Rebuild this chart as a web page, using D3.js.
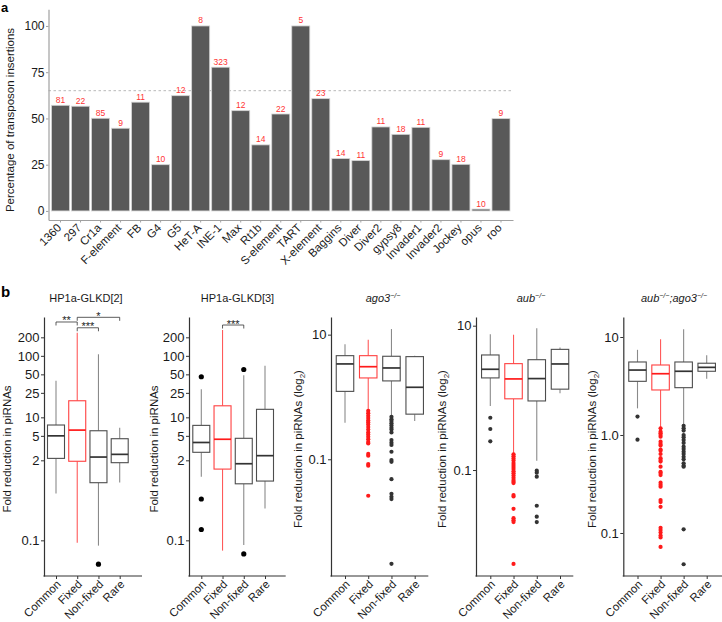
<!DOCTYPE html>
<html><head><meta charset="utf-8">
<script src="https://cdn.jsdelivr.net/npm/d3@7"></script>
<style>body{margin:0;background:#fff}svg{display:block}text{font-family:"Liberation Sans",Arial,Helvetica,sans-serif}</style>
</head><body><svg id="c" width="722" height="622"></svg>
<script>
// ---------- Panel a data ----------
const teCategories = ["1360","297","Cr1a","F-element","FB","G4","G5","HeT-A","INE-1","Max","Rt1b","S-element","TART","X-element","Baggins","Diver","Diver2","gypsy8","Invader1","Invader2","Jockey","opus","roo"];
const tePercent = [57.1,56.6,50.1,44.7,58.8,25,62.3,100,77.7,54.2,35.7,52.4,100,60.7,28.3,27.2,45.4,41.4,45.2,27.7,25.2,1,49.9];
const teCounts = [81,22,85,9,11,10,12,8,323,12,14,22,5,23,14,11,11,18,11,9,18,10,9];
const teThreshold = 65;
const percentTicks = [0,25,50,75,100];

// ---------- Panel b data ----------
const boxCategories = ["Common","Fixed","Non-fixed","Rare"];
// each box: [lower whisker, Q1, median, Q3, upper whisker]
const glkd2Stats = [[0.58,2.15,5.0,7.5,39.4],[0.091,1.93,6.2,18.6,238],[0.082,0.865,2.26,6.05,106],[0.875,1.83,2.5,4.49,6.8]];
const glkd2Outliers = [[],[],[0.041],[]];
const glkd2Brackets = [["Common","Fixed","**",355],["Fixed","Non-fixed","***",286],["Fixed","Rare","*",423]];

const glkd3Stats = [[1.08,2.7,3.9,7.4,28.5],[0.068,1.44,4.4,15.4,263],[0.084,0.83,1.76,4.56,48.5],[0.33,0.92,2.38,13.5,69]];
const glkd3Outliers = [[45.7,0.47,0.15],[],[60,0.06],[]];
const glkd3Brackets = [["Fixed","Non-fixed","***",317]];

const glkdTicks = [0.1,2,5,10,25,50,100,200];
const glkdTickLabels = ["0.1","2","5","10","25","50","100","200"];

const ago3Stats = [[0.387,1.23,3.39,4.6,7.0],[0.62,2.02,3.06,4.6,8.3],[0.5,1.81,2.92,4.5,12.3],[0.41,0.53,1.43,4.44,4.6]];
const ago3Outliers = [[],
  [0.6,0.55,0.5,0.46,0.42,0.39,0.36,0.33,0.3,0.27,0.25,0.23,0.21,0.19,0.18,0.122,0.114,0.084,0.079,0.026],
  [0.48,0.44,0.41,0.38,0.35,0.32,0.3,0.27,0.204,0.185,0.17,0.132,0.097,0.091,0.048,0.028,0.025,0.023,0.0021],
  []];

const aubStats = [[0.77,1.89,2.49,3.93,7.6],[0.171,0.97,1.83,2.98,7.5],[0.134,0.906,1.85,3.38,9.2],[1.16,1.32,2.95,4.7,5.0]];
const aubOutliers = [[0.53,0.37,0.25],
  [0.165,0.155,0.145,0.135,0.125,0.117,0.11,0.103,0.096,0.09,0.084,0.078,0.073,0.069,0.066,0.045,0.043,0.029,0.0215,0.0202,0.019,0.005],
  [0.098,0.092,0.081,0.032,0.0226,0.019],
  []];
const log2Ticks = [0.1,10];
const log2TickLabels = ["0.1","10"];

const aubAgo3Stats = [[1.87,3.53,4.6,5.56,7.4],[1.19,2.88,4.22,5.18,9.5],[1.26,3.04,4.47,5.56,12],[3.76,4.47,4.9,5.4,6.5]];
const aubAgo3Outliers = [[1.54,0.895],
  [1.17,1.08,1.04,1.0,0.96,0.855,0.81,0.78,0.71,0.69,0.64,0.58,0.556,0.535,0.475,0.42,0.41,0.39,0.326,0.31,0.297,0.217,0.207,0.185,0.113,0.107,0.101,0.094,0.09,0.072],
  [1.24,1.17,1.11,1.0,0.95,0.89,0.83,0.76,0.72,0.675,0.64,0.6,0.565,0.514,0.486,0.475,0.109,0.048],
  []];
const aubAgo3Ticks = [0.1,1,10];
const aubAgo3TickLabels = ["0.1","1.0","10"];

// ---------- drawing ----------
const svg = d3.select("#c");
const TXT = "#1a1a1a";

svg.append("text").attr("x",1).attr("y",12).attr("font-size",13).attr("font-weight","bold").text("a");
svg.append("text").attr("x",1).attr("y",297).attr("font-size",15).attr("font-weight","bold").text("b");

// Panel a
const ga = svg.append("g");
const xA = d3.scaleBand().domain(teCategories).range([48.5,513]).paddingInner(0.1).paddingOuter(0.15);
const yA = d3.scaleLinear().domain([-4.9,109]).range([220,9.3]);

ga.append("line").attr("x1",48.5).attr("x2",513).attr("y1",yA(teThreshold)).attr("y2",yA(teThreshold))
  .attr("stroke","#b8b8b8").attr("stroke-width",1).attr("stroke-dasharray","2.5,2.5");

ga.selectAll("rect.bar").data(teCategories).join("rect").attr("class","bar")
  .attr("x",d=>xA(d)).attr("width",xA.bandwidth())
  .attr("y",(d,i)=>yA(tePercent[i])).attr("height",(d,i)=>yA(0)-yA(tePercent[i]))
  .attr("fill","#595959").attr("stroke","#d4d4d4").attr("stroke-width",0.8);

ga.selectAll("text.cnt").data(teCategories).join("text").attr("class","cnt")
  .attr("x",d=>xA(d)+xA.bandwidth()/2).attr("y",(d,i)=>yA(tePercent[i])-2.5)
  .attr("text-anchor","middle").attr("font-size",8.5).attr("fill","#ff3333")
  .text((d,i)=>teCounts[i]);

const axAy = ga.append("g").attr("transform","translate(48.5,0)")
  .call(d3.axisLeft(yA).tickValues(percentTicks).tickSize(2.5).tickPadding(1.5).tickSizeOuter(0));
axAy.select(".domain").attr("stroke","#a0a0a0").attr("stroke-width",1.2);
axAy.selectAll(".tick line").attr("stroke","#a0a0a0");
axAy.selectAll(".tick text").attr("font-size",12).attr("fill",TXT).attr("font-family",null);

const axAx = ga.append("g").attr("transform","translate(0,220)")
  .call(d3.axisBottom(xA).tickSize(2.5).tickSizeOuter(0));
axAx.select(".domain").attr("stroke","#a0a0a0").attr("stroke-width",1.2);
axAx.selectAll(".tick line").attr("stroke","#a0a0a0");
axAx.selectAll(".tick text").attr("font-size",11.5).attr("fill",TXT).attr("font-family",null)
  .attr("x",0).attr("y",0).attr("dy",0).attr("text-anchor","end")
  .attr("transform","translate(1.5,8.5) rotate(-45)");

svg.append("text").attr("transform","translate(14,120) rotate(-90)").attr("text-anchor","middle")
  .attr("font-size",11.5).attr("fill",TXT).text("Percentage of transposon insertions");

// Panel b
const panels = [
  {title:[["HP1a-GLKD[2]",0,false]], titleX:86, stats:glkd2Stats, out:glkd2Outliers, br:glkd2Brackets,
   ticks:glkdTicks, tickLabels:glkdTickLabels, domain:[0.0263,428], x0:44, x1:142, cx:[56,119.7], boxW:17,
   ylabX:10.5, log2:false, dotR:2.6, dotColor:"#000"},
  {title:[["HP1a-GLKD[3]",0,false]], titleX:237.5, stats:glkd3Stats, out:glkd3Outliers, br:glkd3Brackets,
   ticks:glkdTicks, tickLabels:glkdTickLabels, domain:[0.0263,428], x0:189, x1:285.7, cx:[201.3,265], boxW:17,
   ylabX:157.5, log2:false, dotR:2.6, dotColor:"#000"},
  {title:[["ago3",0,true],["\u2212/\u2212",-4,true,true]], titleX:383, stats:ago3Stats, out:ago3Outliers, br:[],
   ticks:log2Ticks, tickLabels:log2TickLabels, domain:[0.00134,19.2], x0:331, x1:428.3, cx:[345,414.7], boxW:17.5,
   ylabX:302, log2:true, dotR:2.1, dotColor:"#333"},
  {title:[["aub",0,true],["\u2212/\u2212",-4,true,true]], titleX:531, stats:aubStats, out:aubOutliers, br:[],
   ticks:log2Ticks, tickLabels:log2TickLabels, domain:[0.0034,13.2], x0:476, x1:573.3, cx:[490.3,560], boxW:17.5,
   ylabX:445.5, log2:true, dotR:2.1, dotColor:"#333"},
  {title:[["aub",0,true],["\u2212/\u2212",-4,true,true],[";ago3",4,true],["\u2212/\u2212",-4,true,true]], titleX:674,
   stats:aubAgo3Stats, out:aubAgo3Outliers, br:[],
   ticks:aubAgo3Ticks, tickLabels:aubAgo3TickLabels, domain:[0.0364,16.0], x0:623.3, x1:722, cx:[637.5,706.7], boxW:17.5,
   ylabX:595.5, log2:true, dotR:2.1, dotColor:"#333"}
];

const Y0 = 576, Y1 = 317;
panels.forEach(p=>{
  const g = svg.append("g");
  const x = d3.scalePoint().domain(boxCategories).range(p.cx);
  const y = d3.scaleLog().domain(p.domain).range([Y0,Y1]);

  const t = g.append("text").attr("x",p.titleX).attr("y",302).attr("text-anchor","middle")
    .attr("font-size",11).attr("fill",TXT);
  p.title.forEach(([s,dy,it,sup])=>{
    t.append("tspan").attr("dy",dy).attr("font-style",it?"italic":null)
      .attr("font-size",sup?7:null).text(s);
  });

  const yl = g.append("text").attr("transform",`translate(${p.ylabX},449) rotate(-90)`)
    .attr("text-anchor","middle").attr("font-size",11.5).attr("fill",TXT);
  if(p.log2){
    yl.append("tspan").text("Fold reduction in piRNAs (log");
    yl.append("tspan").attr("dy",3).attr("font-size",8).text("2");
    yl.append("tspan").attr("dy",-3).text(")");
  } else yl.text("Fold reduction in piRNAs");

  const ay = g.append("g").attr("transform",`translate(${p.x0},0)`)
    .call(d3.axisLeft(y).tickValues(p.ticks).tickFormat((d,i)=>p.tickLabels[i]).tickSize(3).tickPadding(1.5).tickSizeOuter(0));
  ay.select(".domain").attr("stroke","#333").attr("stroke-width",1.2);
  ay.selectAll(".tick line").attr("stroke","#333");
  ay.selectAll(".tick text").attr("font-size",13).attr("fill",TXT).attr("font-family",null);

  const ax = g.append("g").attr("transform",`translate(0,${Y0})`)
    .call(d3.axisBottom(x).tickSize(3).tickSizeOuter(0));
  ax.select(".domain").remove();
  ax.selectAll(".tick line").attr("stroke","#333");
  ax.selectAll(".tick text").attr("font-size",11.5).attr("fill",TXT).attr("font-family",null)
    .attr("x",0).attr("y",0).attr("dy",0).attr("text-anchor","end")
    .attr("transform","translate(5,9) rotate(-45)");
  g.append("line").attr("x1",p.x0-0.6).attr("x2",p.x1).attr("y1",Y0).attr("y2",Y0)
    .attr("stroke","#333").attr("stroke-width",1.2);

  boxCategories.forEach((c,i)=>{
    const s = p.stats[i], red = c==="Fixed";
    const cx = x(c), w = p.boxW;
    const boxC = red ? "#ff4040" : "#4d4d4d";
    const whC = red ? "#ff5a5a" : "#8a8a8a";
    const medC = red ? "#ff1a1a" : "#333";
    const dotC = red ? "#ff1a1a" : p.dotColor;
    g.append("line").attr("x1",cx).attr("x2",cx).attr("y1",y(s[4])).attr("y2",y(s[3])).attr("stroke",whC).attr("stroke-width",1.1);
    g.append("line").attr("x1",cx).attr("x2",cx).attr("y1",y(s[1])).attr("y2",y(s[0])).attr("stroke",whC).attr("stroke-width",1.1);
    g.append("rect").attr("x",cx-w/2).attr("width",w).attr("y",y(s[3])).attr("height",y(s[1])-y(s[3]))
      .attr("fill","#fff").attr("stroke",boxC).attr("stroke-width",1.1);
    g.append("line").attr("x1",cx-w/2).attr("x2",cx+w/2).attr("y1",y(s[2])).attr("y2",y(s[2]))
      .attr("stroke",medC).attr("stroke-width",1.7);
    g.selectAll(null).data(p.out[i]).join("circle")
      .attr("cx",cx).attr("cy",d=>y(d)).attr("r",p.dotR).attr("fill",dotC);
  });

  p.br.forEach(([a,b,lab,lvl])=>{
    const yy = y(lvl), xa = x(a), xb = x(b);
    g.append("path").attr("d",`M${xa},${yy+3.5}V${yy}H${xb}V${yy+3.5}`)
      .attr("fill","none").attr("stroke","#333").attr("stroke-width",0.8);
    g.append("text").attr("x",(xa+xb)/2).attr("y",yy+2.5).attr("text-anchor","middle")
      .attr("font-size",11).attr("fill",TXT).text(lab);
  });
});
</script>
</body></html>
